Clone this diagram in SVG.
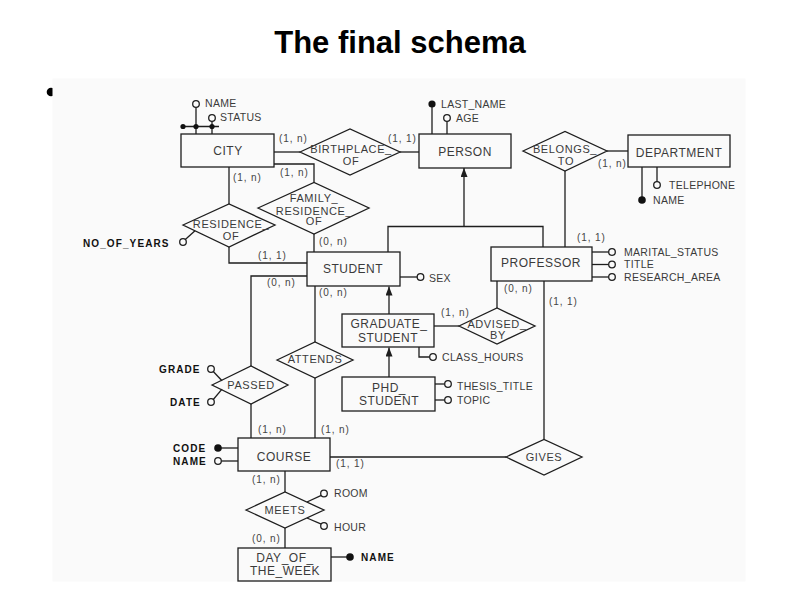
<svg xmlns="http://www.w3.org/2000/svg" width="800" height="600" viewBox="0 0 800 600">
<defs>
<style>
.ln{stroke:#1e1e1e;stroke-width:1.3;fill:none}
.box{fill:#fafafa;stroke:#1e1e1e;stroke-width:1.3}
.oc{fill:#fafafa;stroke:#1e1e1e;stroke-width:1.3}
.fc{fill:#111;stroke:none}
.ent{font-family:"Liberation Sans",Arial,sans-serif;font-size:12px;letter-spacing:0.5px;fill:#3a3a3a;text-anchor:middle}
.rel{font-family:"Liberation Sans",Arial,sans-serif;font-size:11px;letter-spacing:0.6px;fill:#3a3a3a;text-anchor:middle}
.att{font-family:"Liberation Sans",Arial,sans-serif;font-size:10.5px;letter-spacing:0.3px;fill:#3a3a3a}
.card{font-family:"Liberation Sans",Arial,sans-serif;font-size:10px;letter-spacing:0.9px;fill:#444}
.bld{font-family:"Liberation Sans",Arial,sans-serif;font-size:10px;font-weight:bold;letter-spacing:1.1px;fill:#111}
</style>
<marker id="arr" markerUnits="userSpaceOnUse" markerWidth="9" markerHeight="7" refX="9" refY="3.5" orient="auto">
<path d="M0,0 L9,3.5 L0,7 z" fill="#1e1e1e"/>
</marker>
</defs>
<rect x="0" y="0" width="800" height="600" fill="#ffffff"/>
<text x="400" y="53" text-anchor="middle" font-family="Liberation Sans, Arial, sans-serif" font-weight="bold" font-size="31" fill="#000">The final schema</text>
<circle cx="51" cy="92" r="4.3" fill="#000"/>
<rect x="52.5" y="78.5" width="693" height="503" fill="#fafafa"/>

<g id="connectors">
<line class="ln" x1="274" y1="152" x2="300" y2="152"/>
<line class="ln" x1="400" y1="152" x2="419" y2="152"/>
<polyline class="ln" points="274,164 314,164 314,182.5"/>
<line class="ln" x1="314" y1="234" x2="314" y2="252"/>
<line class="ln" x1="229" y1="167" x2="229" y2="204"/>
<polyline class="ln" points="229,247 229,263 307,263"/>
<polyline class="ln" points="307,276 251,276 251,366"/>
<line class="ln" x1="251" y1="404" x2="251" y2="438"/>
<line class="ln" x1="315" y1="286" x2="315" y2="342"/>
<line class="ln" x1="315" y1="378" x2="315" y2="438"/>
<polyline class="ln" points="388,252 388,226.5 543,226.5 543,247"/>
<line class="ln" x1="464" y1="226.5" x2="464" y2="168" marker-end="url(#arr)"/>
<line class="ln" x1="389" y1="314" x2="389" y2="286.5" marker-end="url(#arr)"/>
<line class="ln" x1="389" y1="377" x2="389" y2="347.5" marker-end="url(#arr)"/>
<line class="ln" x1="434" y1="326" x2="459" y2="326"/>
<line class="ln" x1="497" y1="308" x2="497" y2="281"/>
<line class="ln" x1="565" y1="171" x2="565" y2="247"/>
<line class="ln" x1="607" y1="151" x2="628" y2="151"/>
<line class="ln" x1="544" y1="281" x2="544" y2="439.5"/>
<line class="ln" x1="330" y1="457" x2="506" y2="457"/>
<line class="ln" x1="285" y1="471" x2="285" y2="492"/>
<line class="ln" x1="285" y1="528" x2="285" y2="548"/>
<text class="card" x="279" y="142">(1, n)</text>
<text class="card" x="388" y="142">(1, 1)</text>
<text class="card" x="280" y="175.5">(1, n)</text>
<text class="card" x="233" y="180.5">(1, n)</text>
<text class="card" x="598" y="166.5">(1, n)</text>
<text class="card" x="577" y="241">(1, 1)</text>
<text class="card" x="319" y="245">(0, n)</text>
<text class="card" x="258" y="258.5">(1, 1)</text>
<text class="card" x="267" y="286">(0, n)</text>
<text class="card" x="319" y="296">(0, n)</text>
<text class="card" x="441" y="316">(1, n)</text>
<text class="card" x="504" y="292">(0, n)</text>
<text class="card" x="549" y="304.5">(1, 1)</text>
<text class="card" x="258" y="433">(1, n)</text>
<text class="card" x="321" y="433">(1, n)</text>
<text class="card" x="336" y="466.5">(1, 1)</text>
<text class="card" x="252" y="483">(1, n)</text>
<text class="card" x="252" y="542">(0, n)</text>
</g>

<g id="city">
<rect class="box" x="181" y="134" width="93" height="33"/>
<text class="ent" x="228" y="155">CITY</text>
<line class="ln" x1="196" y1="107.3" x2="196" y2="134"/>
<line class="ln" x1="212" y1="121.3" x2="212" y2="134"/>
<line class="ln" x1="181" y1="126.5" x2="219" y2="126.5"/>
<circle class="fc" cx="183" cy="126.5" r="2.6"/>
<circle class="fc" cx="196" cy="126.5" r="2.6"/>
<circle class="fc" cx="212" cy="126.5" r="2.6"/>
<circle class="oc" cx="196" cy="104" r="3.3"/>
<circle class="oc" cx="212" cy="118" r="3.3"/>
<text class="att" x="205" y="106.5">NAME</text>
<text class="att" x="220" y="121">STATUS</text>
</g>

<g id="person">
<rect class="box" x="419" y="134" width="92" height="34"/>
<text class="ent" x="465" y="155.5">PERSON</text>
<line class="ln" x1="432" y1="104" x2="432" y2="134"/>
<circle class="fc" cx="432" cy="104" r="3.6"/>
<line class="ln" x1="447" y1="121.3" x2="447" y2="134"/>
<circle class="oc" cx="447" cy="118" r="3.3"/>
<text class="att" x="441" y="107.5">LAST_NAME</text>
<text class="att" x="456" y="121.5">AGE</text>
</g>

<g id="department">
<rect class="box" x="628" y="135" width="102" height="32"/>
<text class="ent" x="679" y="156.5">DEPARTMENT</text>
<line class="ln" x1="642" y1="167" x2="642" y2="200"/>
<circle class="fc" cx="642" cy="200" r="3.8"/>
<line class="ln" x1="657" y1="167" x2="657" y2="181.7"/>
<circle class="oc" cx="657" cy="185" r="3.3"/>
<text class="att" x="669" y="189">TELEPHONE</text>
<text class="att" x="653" y="203.5">NAME</text>
</g>

<g id="birthplace_of">
<polygon class="box" points="300,152 350,129 400,152 350,175"/>
<text class="rel" x="351" y="153">BIRTHPLACE_</text>
<text class="rel" x="351" y="165">OF</text>
</g>

<g id="belongs_to">
<polygon class="box" points="523,151 565,131.5 607,151 565,171"/>
<text class="rel" x="565" y="153">BELONGS_</text>
<text class="rel" x="566" y="165">TO</text>
</g>

<g id="family_residence_of">
<polygon class="box" points="258,208 314,182.5 369,208 314,234"/>
<text class="rel" x="314" y="202">FAMILY_</text>
<text class="rel" x="314" y="214.5">RESIDENCE_</text>
<text class="rel" x="314" y="225">OF</text>
</g>

<g id="residence_of">
<polygon class="box" points="183,225 229,204 275,225 229,247"/>
<text class="rel" x="231" y="228">RESIDENCE_</text>
<text class="rel" x="231" y="240">OF</text>
<line class="ln" x1="185.3" y1="239.5" x2="195" y2="230.7"/>
<circle class="oc" cx="183" cy="242" r="3.3"/>
<text class="bld" x="83" y="246.5">NO_OF_YEARS</text>
</g>

<g id="student">
<rect class="box" x="307" y="252" width="93" height="34"/>
<text class="ent" x="353" y="273">STUDENT</text>
<line class="ln" x1="400" y1="277" x2="417.2" y2="277"/>
<circle class="oc" cx="420.5" cy="277" r="3.3"/>
<text class="att" x="429" y="281.5">SEX</text>
</g>

<g id="professor">
<rect class="box" x="491" y="247" width="101" height="34"/>
<text class="ent" x="541" y="267">PROFESSOR</text>
<line class="ln" x1="592" y1="252" x2="608.7" y2="252"/>
<line class="ln" x1="592" y1="264.5" x2="608.7" y2="264.5"/>
<line class="ln" x1="592" y1="277" x2="608.7" y2="277"/>
<circle class="oc" cx="612" cy="252" r="3.3"/>
<circle class="oc" cx="612" cy="264.5" r="3.3"/>
<circle class="oc" cx="612" cy="277" r="3.3"/>
<text class="att" x="624" y="255.5">MARITAL_STATUS</text>
<text class="att" x="624" y="268">TITLE</text>
<text class="att" x="624" y="281">RESEARCH_AREA</text>
</g>

<g id="graduate_student">
<rect class="box" x="342" y="314" width="92" height="33"/>
<text class="ent" x="389" y="328">GRADUATE_</text>
<text class="ent" x="388" y="342">STUDENT</text>
<polyline class="ln" points="419,347 419,357 429.7,357"/>
<circle class="oc" cx="433" cy="357" r="3.3"/>
<text class="att" x="442" y="360.5">CLASS_HOURS</text>
</g>

<g id="advised_by">
<polygon class="box" points="459,326 497,308 535,326 497,344"/>
<text class="rel" x="497" y="328">ADVISED_</text>
<text class="rel" x="498" y="339">BY</text>
</g>

<g id="phd_student">
<rect class="box" x="342" y="377" width="93" height="34"/>
<text class="ent" x="389" y="392">PHD_</text>
<text class="ent" x="389" y="404.5">STUDENT</text>
<line class="ln" x1="435" y1="384" x2="444.7" y2="384"/>
<line class="ln" x1="435" y1="400" x2="444.7" y2="400"/>
<circle class="oc" cx="448" cy="384" r="3.3"/>
<circle class="oc" cx="448" cy="400" r="3.3"/>
<text class="att" x="457" y="390">THESIS_TITLE</text>
<text class="att" x="457" y="404">TOPIC</text>
</g>

<g id="attends">
<polygon class="box" points="277,360 315,342 353,360 315,378"/>
<text class="rel" x="315" y="363">ATTENDS</text>
</g>

<g id="passed">
<polygon class="box" points="212,385 251,366 288,385 251,404"/>
<text class="rel" x="251" y="389">PASSED</text>
<line class="ln" x1="213.3" y1="371.5" x2="222" y2="380.8"/>
<line class="ln" x1="213.3" y1="399.5" x2="222" y2="389.2"/>
<circle class="oc" cx="211" cy="369" r="3.3"/>
<circle class="oc" cx="211" cy="402" r="3.3"/>
<text class="bld" x="159" y="372.5">GRADE</text>
<text class="bld" x="170" y="405.5">DATE</text>
</g>

<g id="course">
<rect class="box" x="238" y="438" width="92" height="33"/>
<text class="ent" x="284" y="460.5">COURSE</text>
<line class="ln" x1="218" y1="448" x2="238" y2="448"/>
<circle class="fc" cx="218" cy="448" r="3.8"/>
<line class="ln" x1="221.3" y1="461" x2="238" y2="461"/>
<circle class="oc" cx="218" cy="461" r="3.3"/>
<text class="bld" x="173" y="451.5">CODE</text>
<text class="bld" x="173" y="464.5">NAME</text>
</g>

<g id="gives">
<polygon class="box" points="506,457 544,439.5 582,457 544,475"/>
<text class="rel" x="544" y="461">GIVES</text>
</g>

<g id="meets">
<polygon class="box" points="246,510 285,492 324,510 285,528"/>
<text class="rel" x="285" y="514">MEETS</text>
<line class="ln" x1="307" y1="502" x2="321.3" y2="495.3"/>
<line class="ln" x1="307" y1="518" x2="321.3" y2="524.2"/>
<circle class="oc" cx="324" cy="493.5" r="3.3"/>
<circle class="oc" cx="324" cy="526" r="3.3"/>
<text class="att" x="334" y="497">ROOM</text>
<text class="att" x="334" y="530.5">HOUR</text>
</g>

<g id="day_of_the_week">
<rect class="box" x="238" y="548" width="93" height="33"/>
<text class="ent" x="285" y="562">DAY_OF_</text>
<text class="ent" x="285" y="574.5">THE_WEEK</text>
<line class="ln" x1="331" y1="557" x2="350" y2="557"/>
<circle class="fc" cx="350" cy="557" r="3.8"/>
<text class="bld" x="361" y="561">NAME</text>
</g>
</svg>
